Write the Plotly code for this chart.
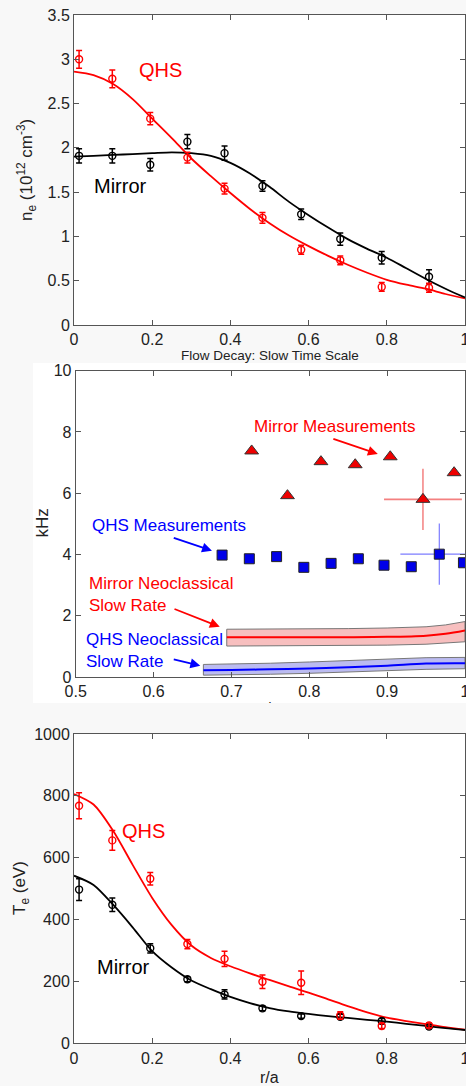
import plotly.graph_objects as go

# ---------------- data ----------------
# radial positions of the profile measurements (r/a)
r_prof = [0.013, 0.098, 0.195, 0.29, 0.385, 0.482, 0.581, 0.681, 0.787, 0.908]

# electron density (1e12 cm^-3)
ne_qhs = [3.00, 2.78, 2.33, 1.89, 1.54, 1.21, 0.85, 0.73, 0.43, 0.42]
ne_qhs_err = [0.10, 0.10, 0.07, 0.06, 0.06, 0.06, 0.05, 0.05, 0.05, 0.05]
ne_mir = [1.91, 1.91, 1.81, 2.07, 1.94, 1.57, 1.25, 0.97, 0.76, 0.545]
ne_mir_err = [0.08, 0.08, 0.07, 0.08, 0.08, 0.06, 0.06, 0.07, 0.07, 0.08]

# fitted profiles
r_fit = [0.0, 0.05, 0.1, 0.15, 0.2, 0.25, 0.3, 0.35, 0.4, 0.45, 0.5,
         0.55, 0.6, 0.65, 0.7, 0.75, 0.8, 0.85, 0.9, 0.95, 1.0]
ne_qhs_fit = [2.86, 2.82, 2.72, 2.55, 2.33, 2.11, 1.88, 1.68, 1.49, 1.31, 1.15,
              1.01, 0.89, 0.78, 0.68, 0.59, 0.51, 0.455, 0.41, 0.35, 0.30]
ne_mir_fit = [1.90, 1.91, 1.92, 1.93, 1.94, 1.95, 1.94, 1.91, 1.83, 1.71, 1.56,
              1.39, 1.24, 1.10, 0.97, 0.86, 0.76, 0.64, 0.52, 0.41, 0.31]

# flow decay rates (kHz)
mir_r = [0.726, 0.772, 0.815, 0.859, 0.904, 0.946, 0.986]
mir_f = [7.38, 5.92, 7.03, 6.93, 7.19, 5.80, 6.67]
qhs_r = [0.688, 0.723, 0.758, 0.793, 0.828, 0.863, 0.896, 0.931, 0.967, 0.998]
qhs_f = [3.98, 3.86, 3.93, 3.58, 3.71, 3.86, 3.65, 3.60, 4.01, 3.73]
# representative uncertainty shown on one point of each set
mir_err_idx, mir_err_r, mir_err_f = 5, 0.05, 1.0
qhs_err_idx, qhs_err_r, qhs_err_f = 8, 0.05, 1.0

# neoclassical slow rates with uncertainty bands (kHz)
mir_nc_r = [0.694, 0.75, 0.8, 0.85, 0.9, 0.95, 0.975, 1.0]
mir_nc = [1.30, 1.30, 1.30, 1.30, 1.31, 1.35, 1.41, 1.52]
mir_nc_hi = [1.56, 1.56, 1.57, 1.58, 1.60, 1.64, 1.70, 1.81]
mir_nc_lo = [1.01, 1.01, 1.02, 1.03, 1.04, 1.07, 1.10, 1.15]
qhs_nc_r = [0.664, 0.7, 0.75, 0.8, 0.85, 0.9, 0.95, 1.0]
qhs_nc = [0.22, 0.23, 0.25, 0.28, 0.32, 0.37, 0.44, 0.45]
qhs_nc_hi = [0.41, 0.42, 0.45, 0.49, 0.53, 0.58, 0.63, 0.64]
qhs_nc_lo = [0.06, 0.07, 0.09, 0.12, 0.16, 0.20, 0.25, 0.27]

# electron temperature (eV)
te_qhs = [768, 656, 532, 321, 273, 199, 196, 90, 56, 58]
te_qhs_err = [42, 32, 20, 15, 25, 22, 38, 12, 8, 8]
te_mir = [497, 448, 307, 207, 158, 113, 88, 86, 72, 54]
te_mir_err = [35, 22, 15, 8, 15, 8, 7, 8, 8, 7]
te_qhs_fit = [806, 772, 687, 577, 470, 382, 316, 276, 249, 226, 205,
              184, 164, 142, 120, 100, 83, 72, 62, 52, 44]
te_mir_fit = [542, 512, 448, 375, 298, 245, 203, 175, 150, 130, 114,
              103, 95, 88, 82, 76, 70, 63, 56, 49, 43]

# ---------------- styling ----------------
W, H = 466, 1086
FONT = "Liberation Sans, Arial, sans-serif"
RED, BLACK, BLUE = "#ff0000", "#000000", "#0000ff"


def px_x(p):
    return p / W


def px_y(p):
    return 1 - p / H


fig = go.Figure()


def profile_traces(xa, ya, r, y_q, e_q, y_m, e_m, fq, fm):
    for yy, col in ((fq, RED), (fm, BLACK)):
        fig.add_trace(go.Scatter(x=r_fit, y=yy, mode="lines", xaxis=xa, yaxis=ya,
                                 line=dict(color=col, width=1.8, shape="spline", smoothing=0.8),
                                 showlegend=False, hoverinfo="skip"))
    for yy, ee, col in ((y_m, e_m, BLACK), (y_q, e_q, RED)):
        fig.add_trace(go.Scatter(
            x=r, y=yy, mode="markers", xaxis=xa, yaxis=ya,
            marker=dict(symbol="circle-open", size=7, color=col, line=dict(width=1.4, color=col)),
            error_y=dict(type="data", array=ee, color=col, thickness=1.5, width=3),
            showlegend=False))


# top: density
profile_traces("x", "y", r_prof, ne_qhs, ne_qhs_err, ne_mir, ne_mir_err, ne_qhs_fit, ne_mir_fit)
# bottom: temperature
profile_traces("x3", "y3", r_prof, te_qhs, te_qhs_err, te_mir, te_mir_err, te_qhs_fit, te_mir_fit)

# middle: neoclassical bands
for rr, c, hi, lo, fill, col in (
        (mir_nc_r, mir_nc, mir_nc_hi, mir_nc_lo, "rgba(246,180,180,0.85)", RED),
        (qhs_nc_r, qhs_nc, qhs_nc_hi, qhs_nc_lo, "rgba(180,180,240,0.9)", BLUE)):
    fig.add_trace(go.Scatter(x=rr + rr[::-1] + [rr[0]], y=hi + lo[::-1] + [hi[0]],
                             mode="lines", fill="toself", fillcolor=fill,
                             line=dict(color="#777777", width=1), xaxis="x2", yaxis="y2",
                             showlegend=False, hoverinfo="skip"))
    fig.add_trace(go.Scatter(x=rr, y=c, mode="lines", line=dict(color=col, width=2, shape="spline"),
                             xaxis="x2", yaxis="y2", showlegend=False))

# error crosses
fig.add_trace(go.Scatter(x=[mir_r[mir_err_idx]], y=[mir_f[mir_err_idx]], mode="markers",
                         marker=dict(size=1, color="rgba(0,0,0,0)"),
                         error_x=dict(type="constant", value=mir_err_r, color="#f48080", thickness=1.6, width=0),
                         error_y=dict(type="constant", value=mir_err_f, color="#f06060", thickness=1.2, width=0),
                         xaxis="x2", yaxis="y2", showlegend=False))
fig.add_trace(go.Scatter(x=[qhs_r[qhs_err_idx]], y=[qhs_f[qhs_err_idx]], mode="markers",
                         marker=dict(size=1, color="rgba(0,0,0,0)"),
                         error_x=dict(type="constant", value=qhs_err_r, color="#7c7cff", thickness=1.2, width=0),
                         error_y=dict(type="constant", value=qhs_err_f, color="#7c7cff", thickness=1.2, width=0),
                         xaxis="x2", yaxis="y2", showlegend=False))

# measurements
fig.add_trace(go.Scatter(x=mir_r, y=mir_f, mode="markers", xaxis="x2", yaxis="y2",
                         marker=dict(symbol="triangle-up", size=12, color="#ee0000",
                                     line=dict(color="#333333", width=1)),
                         showlegend=False))
fig.add_trace(go.Scatter(x=qhs_r, y=qhs_f, mode="markers", xaxis="x2", yaxis="y2",
                         marker=dict(symbol="square", size=10, color="#0000e8",
                                     line=dict(color="#222222", width=1)),
                         showlegend=False))

# clipped axis label peeking out beneath the middle panel
fig.add_trace(go.Scatter(x=[0.5], y=[-0.55], mode="text", text=["r/a"],
                         textfont=dict(family=FONT, size=16, color="#222"),
                         cliponaxis=True, xaxis="x4", yaxis="y4", showlegend=False))

axis_common = dict(showline=True, mirror="ticks", linecolor="#555555", linewidth=1,
                   ticks="inside", ticklen=5, tickcolor="#555555", tickwidth=1,
                   showgrid=False, zeroline=False, automargin=False,
                   ticklabeloverflow="allow",
                   tickfont=dict(family=FONT, size=16, color="#222222"))

xdom = [px_x(74), px_x(465)]
xdom2 = [px_x(75.7), px_x(465)]

fig.update_layout(
    template="none",
    width=W, height=H,
    margin=dict(l=0, r=0, t=0, b=0, pad=0),
    paper_bgcolor="#f8f8f8", plot_bgcolor="#ffffff",
    font=dict(family=FONT, color="#222222"),
    showlegend=False,
    xaxis=dict(domain=xdom, range=[0, 1], dtick=0.2, anchor="y", **axis_common),
    yaxis=dict(domain=[px_y(325), px_y(15)], range=[0, 3.5], dtick=0.5, anchor="x", **axis_common),
    xaxis2=dict(domain=xdom2, range=[0.5, 1], dtick=0.1, anchor="y2", **axis_common),
    yaxis2=dict(domain=[px_y(677), px_y(370.7)], range=[0, 10], dtick=2, anchor="x2", **axis_common),
    xaxis3=dict(domain=xdom, range=[0, 1], dtick=0.2, anchor="y3", **axis_common),
    yaxis3=dict(domain=[px_y(1043.3), px_y(734)], range=[0, 1000], dtick=200, anchor="x3", **axis_common),
    xaxis4=dict(domain=xdom2, range=[0, 1], visible=False, anchor="y4", automargin=False),
    yaxis4=dict(domain=[px_y(703), px_y(690)], range=[0, 1], visible=False, anchor="x4", automargin=False),
    shapes=[dict(type="rect", xref="paper", yref="paper", layer="below",
                 x0=px_x(33), x1=1, y0=px_y(703), y1=px_y(363),
                 fillcolor="#ffffff", line=dict(width=0))],
)

ann = []


def text(x, y, s, col, size, xref="x", yref="y", **kw):
    kw.setdefault("xanchor", "center")
    kw.setdefault("yanchor", "middle")
    ann.append(dict(x=x, y=y, xref=xref, yref=yref, text=s, showarrow=False,
                    font=dict(family=FONT, size=size, color=col), **kw))


def arrow(x0, y0, x1, y1, col, xref, yref):
    ann.append(dict(x=x1, y=y1, ax=x0, ay=y0, xref=xref, yref=yref, axref=xref, ayref=yref,
                    text="", showarrow=True, arrowhead=2, arrowsize=1.1, arrowwidth=1.8,
                    arrowcolor=col))


# panel labels
text(0.22, 2.88, "QHS", RED, 20)
text(0.12, 1.57, "Mirror", BLACK, 20)
text(0.178, 685, "QHS", RED, 20, xref="x3", yref="y3")
text(0.127, 248, "Mirror", BLACK, 20, xref="x3", yref="y3")

text(0.833, 8.17, "Mirror Measurements", RED, 17, xref="x2", yref="y2")
text(0.62, 4.93, "QHS Measurements", BLUE, 17, xref="x2", yref="y2")
text(0.514, 2.68, "Mirror Neoclassical<br>Slow Rate", RED, 17, xref="x2", yref="y2",
     xanchor="left", align="left")
text(0.511, 0.88, "QHS Neoclassical<br>Slow Rate", BLUE, 17, xref="x2", yref="y2",
     xanchor="left", align="left")

arrow(0.829, 7.79, 0.888, 7.28, RED, "x2", "y2")
arrow(0.624, 4.56, 0.675, 4.12, BLUE, "x2", "y2")
arrow(0.625, 2.24, 0.685, 1.64, RED, "x2", "y2")
arrow(0.624, 0.59, 0.660, 0.37, BLUE, "x2", "y2")

# axis titles
text(px_x(270), px_y(355), "Flow Decay: Slow Time Scale", "#222222", 13.5, xref="paper", yref="paper")
text(px_x(269.5), px_y(1077), "r/a", "#222222", 16, xref="paper", yref="paper")
text(px_x(27), px_y(170), "n<sub>e</sub> (10<sup>12</sup> cm<sup>-3</sup>)", "#222222", 17,
     xref="paper", yref="paper", textangle=-90)
text(px_x(42), px_y(523.5), "kHz", "#222222", 17, xref="paper", yref="paper", textangle=-90)
text(px_x(21), px_y(888), "T<sub>e</sub> (eV)", "#222222", 17, xref="paper", yref="paper", textangle=-90)

fig.update_layout(annotations=ann)

fig.write_html("out.html")
